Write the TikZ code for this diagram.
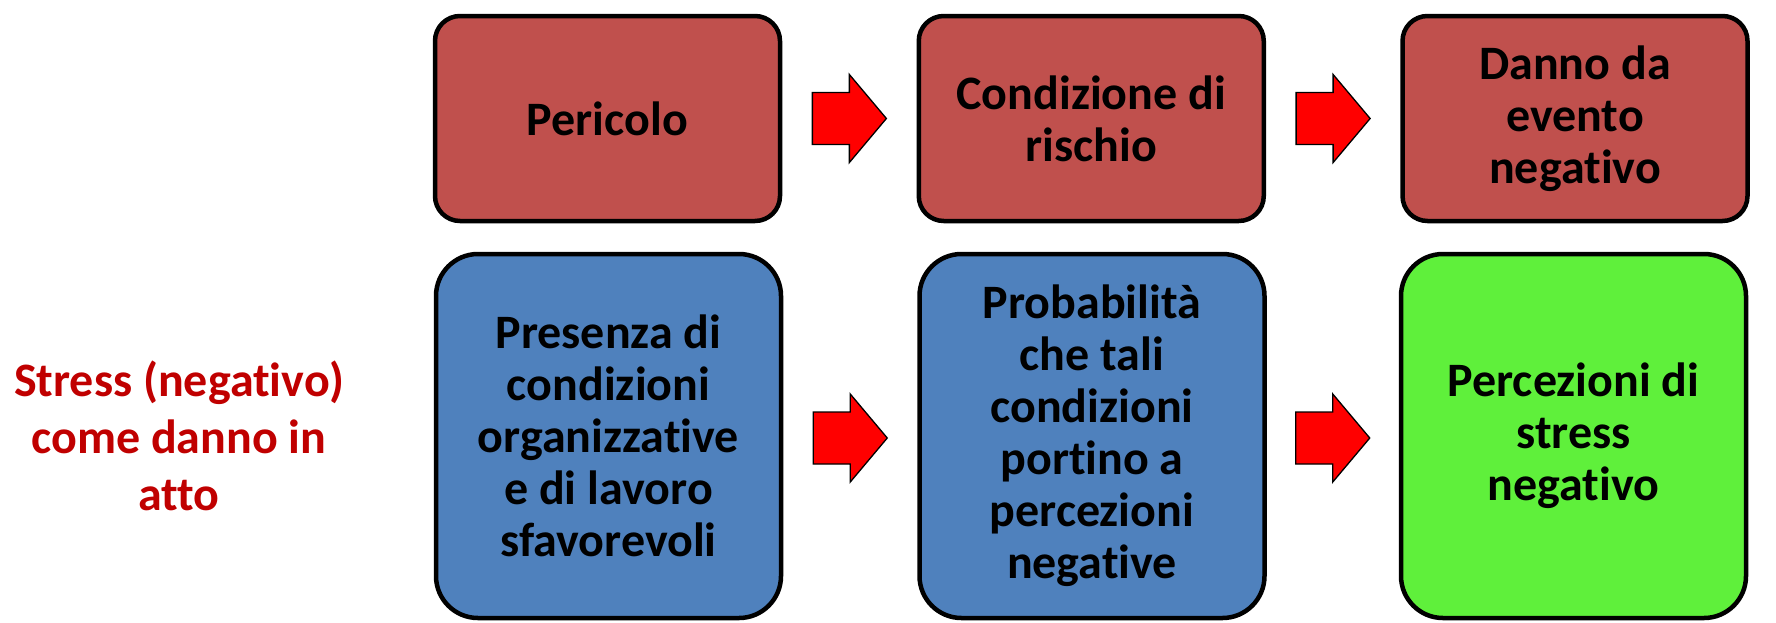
\documentclass[tikz,border=0pt]{standalone}
\usepackage{fontspec}
\setmainfont{Carlito}[Ligatures=NoCommon]
\usetikzlibrary{calc}
\definecolor{topred}{HTML}{C0504D}
\definecolor{boxblue}{HTML}{4F81BD}
\definecolor{boxgreen}{HTML}{5FF03B}
\definecolor{labelred}{HTML}{C00000}
\tikzset{
  box/.style={draw=black, line width=4.5pt, align=center, inner sep=0pt,
    minimum width=345pt, font=\fontsize{48}{52}\selectfont\bfseries, text=black},
  topbox/.style={box, rounded corners=25pt, minimum height=205pt, fill=topred},
  botbox/.style={box, rounded corners=42pt, minimum height=364pt},
  blockarrow/.pic={\draw[fill=red, draw=black, line width=1.3pt, line join=miter]
    (-37,-26) -- (0,-26) -- (0,-44) -- (37,0) -- (0,44) -- (0,26) -- (-37,26) -- cycle;}
}
\begin{document}
\begin{tikzpicture}[x=1pt,y=-1pt]
\useasboundingbox (0,0) rectangle (1776,622);
\node[topbox] (t1) at (607.5,118.5) {Pericolo};
\node[topbox] (t2) at (1091.25,118.5) {Condizione di\\rischio};
\node[topbox] (t3) at (1575,118.5) {Danno da\\evento\\negativo};
\node[botbox, fill=boxblue] (b1) at (608.5,436) {Presenza di\\condizioni\\organizzative\\e di lavoro\\sfavorevoli};
\node[botbox, fill=boxblue] (b2) at (1092,436) {Probabilità\\che tali\\condizioni\\portino a\\percezioni\\negative};
\node[botbox, fill=boxgreen] (b3) at (1573.5,436) {Percezioni di\\stress\\negativo};
\node[align=center, text=labelred, font=\fontsize{48}{57}\selectfont\bfseries] (lab) at (179,436) {Stress (negativo)\\come danno in\\atto};
\coordinate (m1) at ($(t1.east)!0.5!(t2.west)$);
\coordinate (m2) at ($(t2.east)!0.5!(t3.west)$);
\coordinate (m3) at ($(b1.east)!0.5!(b2.west)$);
\coordinate (m4) at ($(b2.east)!0.5!(b3.west)$);
\pic at (m1) {blockarrow};
\pic at (m2) {blockarrow};
\pic at ($(m3)+(0,2)$) {blockarrow};
\pic at ($(m4)+(0,2)$) {blockarrow};
\end{tikzpicture}
\end{document}
